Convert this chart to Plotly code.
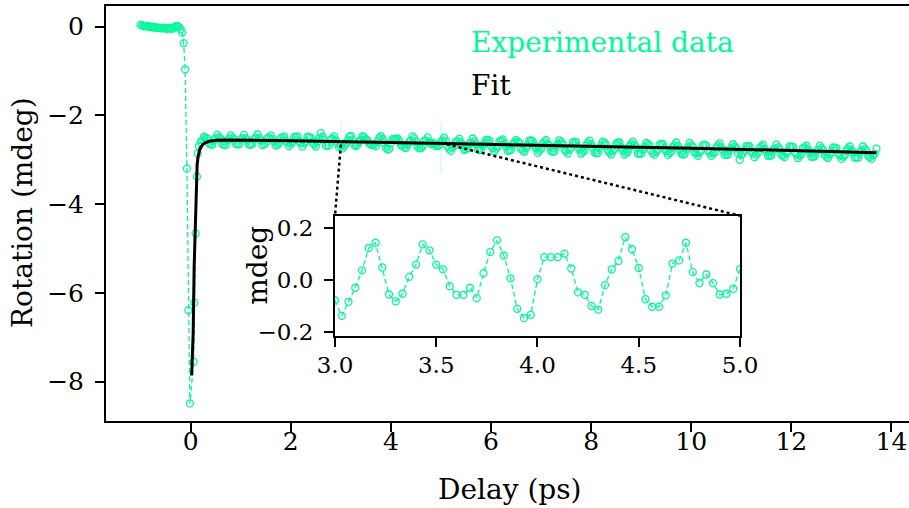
import numpy as np
import plotly.graph_objects as go

GREEN = "#00FA9A"
FONT = "DejaVu Serif"

# ---------------- data ----------------
# delay grid of the scan (ps), step 1/30 ps
pre_delay = np.arange(-30, -5) / 30.0
pre_rotation = [0.04, 0.03, 0.01, 0.02, 0.00, 0.01, -0.01, 0.00, -0.02, -0.01,
                -0.03, -0.02, -0.03, -0.04, -0.02, -0.04, -0.05, -0.03, -0.04, -0.05,
                -0.02, 0.01, 0.02, -0.01, -0.06]

edge_delay = [-0.167, -0.14, -0.11, -0.075, -0.045, -0.015, 0.06, 0.075, 0.10, 0.125, 0.14]
edge_rotation = [-0.13, -0.37, -0.96, -3.20, -6.39, -8.49, -7.55, -6.22, -4.66, -3.38, -2.86]

plateau_delay = np.arange(5, 412) / 30.0
plateau_a = [
    -2.70, -2.60, -2.56, -2.48, -2.51, -2.52, -2.63, -2.65, -2.66, -2.56,
    -2.52, -2.44, -2.49, -2.53, -2.65, -2.66, -2.67, -2.56, -2.53, -2.45,
    -2.50, -2.54, -2.64, -2.65, -2.65, -2.54, -2.51, -2.44, -2.52, -2.56,
    -2.66, -2.66, -2.64, -2.53, -2.50, -2.43, -2.51, -2.56, -2.67, -2.65,
    -2.62, -2.51, -2.50, -2.45, -2.54, -2.59, -2.68, -2.66, -2.63, -2.51,
    -2.50, -2.47, -2.57, -2.61, -2.69, -2.64, -2.60, -2.49, -2.49, -2.47,
    -2.58, -2.63, -2.70, -2.63, -2.59, -2.48, -2.49, -2.50, -2.61, -2.65,
    -2.70, -2.59, -2.52, -2.40, -2.48, -2.55, -2.68, -2.69, -2.67, -2.54,
    -2.52, -2.47, -2.57, -2.63, -2.72]
plateau_b = [
    -2.685, -2.744, -2.690, -2.636, -2.569, -2.483, -2.463, -2.558, -2.662, -2.688,
    -2.659, -2.594, -2.547, -2.469, -2.492, -2.547, -2.565, -2.630, -2.663, -2.663,
    -2.651, -2.691, -2.595, -2.514, -2.469, -2.527, -2.615, -2.732, -2.768, -2.755,
    -2.618, -2.533, -2.533, -2.533, -2.520, -2.577, -2.669, -2.678, -2.721, -2.735,
    -2.656, -2.595, -2.563, -2.471, -2.518, -2.590, -2.710, -2.739, -2.739, -2.695,
    -2.573, -2.561, -2.493, -2.606, -2.648, -2.615, -2.648, -2.692, -2.689, -2.670,
    -2.594]
plateau_c = [
    -2.56, -2.50, -2.58, -2.69, -2.75, -2.80, -2.72, -2.68, -2.59,
    -2.58, -2.53, -2.62, -2.67, -2.78, -2.76, -2.74, -2.64, -2.61,
    -2.52, -2.58, -2.64, -2.76, -2.78, -2.77, -2.68, -2.63, -2.55,
    -2.55, -2.57, -2.69, -2.74, -2.81, -2.75, -2.70, -2.59, -2.57,
    -2.54, -2.63, -2.70, -2.80, -2.79, -2.77, -2.66, -2.61, -2.55,
    -2.59, -2.62, -2.75, -2.79, -2.82, -2.73, -2.67, -2.57, -2.56,
    -2.58, -2.68, -2.74, -2.84, -2.79, -2.75, -2.64, -2.59, -2.55,
    -2.64, -2.69, -2.80, -2.82, -2.81, -2.70, -2.64, -2.56, -2.60,
    -2.65, -2.77, -2.81, -2.86, -2.77, -2.72, -2.61, -2.59, -2.60,
    -2.71, -2.77, -2.86, -2.82, -2.79, -2.67, -2.62, -2.57, -2.65,
    -2.72, -2.83, -2.85, -2.85, -2.74, -2.68, -2.59, -2.62, -2.66,
    -2.79, -2.83, -2.88, -2.80, -2.75, -2.64, -2.61, -2.61, -2.72,
    -2.79, -2.88, -2.84, -2.82, -2.70, -2.65, -2.59, -2.66, -2.72,
    -2.86, -2.86, -2.86, -2.77, -2.71, -2.62, -2.64, -2.67, -2.80,
    -2.85, -2.89, -2.82, -2.77, -2.66, -2.64, -2.64, -2.75, -2.81,
    -2.89, -2.85, -2.82, -2.71, -2.67, -2.61, -2.69, -2.76, -2.86,
    -2.88, -2.87, -2.77, -2.72, -2.62, -2.67, -2.71, -2.83, -2.86,
    -2.91, -2.83, -2.78, -2.67, -2.66, -2.68, -2.78, -2.84, -2.91,
    -2.86, -2.83, -2.72, -2.68, -2.63, -2.72, -2.78, -2.89, -2.89,
    -2.88, -2.78, -2.73, -2.65, -2.70, -2.74, -2.85, -3.00, -2.89,
    -2.84, -2.79, -2.69, -2.69, -2.70, -2.81, -2.86, -2.94, -2.89,
    -2.84, -2.73, -2.70, -2.66, -2.76, -2.81, -2.91, -2.91, -2.90,
    -2.79, -2.75, -2.66, -2.72, -2.76, -2.88, -2.91, -2.94, -2.85,
    -2.80, -2.70, -2.71, -2.71, -2.83, -2.88, -2.96, -2.91, -2.87,
    -2.74, -2.72, -2.68, -2.77, -2.83, -2.93, -2.93, -2.92, -2.81,
    -2.77, -2.68, -2.74, -2.78, -2.89, -2.93, -2.96, -2.88, -2.83,
    -2.72, -2.73, -2.73, -2.85, -2.90, -2.98, -2.93, -2.90, -2.79,
    -2.75, -2.70, -2.79, -2.84, -2.95, -2.95, -2.95, -2.84, -2.79,
    -2.70, -2.76, -2.80, -2.91, -2.94, -2.98, -2.90, -2.86, -2.75]
plateau_rotation = plateau_a + plateau_b + plateau_c
assert len(plateau_rotation) == len(plateau_delay)

fit_delay = [0.02, 0.05, 0.07, 0.10, 0.12, 0.13, 0.15, 0.16, 0.18, 0.20, 0.22, 0.25,
             0.27, 0.30, 0.32, 0.35, 0.40, 0.45, 0.52, 0.70, 1.0, 2.0, 4.0, 6.0,
             8.0, 10.0, 12.0, 13.7]
fit_rotation = [-7.86, -6.92, -5.41, -3.90, -3.30, -3.10, -2.92, -2.86, -2.78, -2.72,
                -2.68, -2.645, -2.63, -2.61, -2.60, -2.59, -2.575, -2.567, -2.56, -2.555,
                -2.555, -2.57, -2.61, -2.65, -2.69, -2.74, -2.79, -2.84]

inset_delay = np.arange(90, 151) / 30.0
inset_residual = [
    -0.080, -0.139, -0.085, -0.031, 0.036, 0.122, 0.142, 0.047, -0.057, -0.083,
    -0.054, 0.011, 0.058, 0.136, 0.113, 0.058, 0.040, -0.025, -0.058, -0.058,
    -0.031, -0.071, 0.025, 0.106, 0.151, 0.093, 0.005, -0.112, -0.148, -0.135,
    0.002, 0.087, 0.087, 0.087, 0.100, 0.043, -0.049, -0.058, -0.101, -0.115,
    -0.021, 0.040, 0.072, 0.164, 0.117, 0.045, -0.075, -0.104, -0.104, -0.060,
    0.062, 0.074, 0.142, 0.029, -0.013, 0.020, -0.013, -0.057, -0.054, -0.035,
    0.041]

x_ticks = [0, 2, 4, 6, 8, 10, 12, 14]
y_ticks = [-8, -6, -4, -2, 0]
inset_x_ticks = [3.0, 3.5, 4.0, 4.5, 5.0]
inset_y_ticks = [-0.2, 0.0, 0.2]
zoom_x = [3.0, 5.0]                 # delay window shown in the inset
zoom_marks_top = -2.14              # faint window markers (main-axes coords)
zoom_marks_bottom = [-2.66, -3.29]
connector_y = [-2.66, -2.62]        # where the dotted connectors leave the trace

# ---------------- layout geometry ----------------
W, H = 909, 508
ML, MR, MT, MB = 106, 0, 6, 87
X_RANGE = [-1.691, 14.35]
Y_RANGE = [-8.886, 0.466]
INSET_X_DOM = [0.2852, 0.7895]
INSET_Y_DOM = [0.2048, 0.4947]
INSET_Y_RANGE = [-0.2165, 0.246]

pw, ph = W - ML - MR, H - MT - MB


def px2paper(x, y):
    return (x - ML) / pw, (H - MB - y) / ph


def data2paper(x, y):
    return ((x - X_RANGE[0]) / (X_RANGE[1] - X_RANGE[0]),
            (y - Y_RANGE[0]) / (Y_RANGE[1] - Y_RANGE[0]))


all_delay = list(pre_delay) + edge_delay + list(plateau_delay)
all_rotation = pre_rotation + edge_rotation + plateau_rotation

marker_style = dict(symbol="circle-open", size=7, color=GREEN,
                    line=dict(width=1.3, color=GREEN))
line_style = dict(color=GREEN, width=1.3, dash="5px,3px")

fig = go.Figure()
fig.add_trace(go.Scatter(x=all_delay, y=all_rotation, mode="lines+markers",
                         line=line_style, marker=marker_style,
                         name="Experimental data", showlegend=False))
fig.add_trace(go.Scatter(x=fit_delay, y=fit_rotation, mode="lines",
                         line=dict(color="black", width=3),
                         name="Fit", showlegend=False))
fig.add_trace(go.Scatter(x=inset_delay, y=inset_residual, mode="lines+markers",
                         line=line_style, marker=marker_style,
                         xaxis="x2", yaxis="y2", showlegend=False))


def axis_common(size, standoff):
    return dict(showgrid=False, zeroline=False, showline=True, automargin=False,
                linecolor="black", linewidth=2, ticks="outside",
                ticklen=9, tickwidth=2, tickcolor="black",
                ticklabelstandoff=standoff,
                tickfont=dict(family=FONT, size=size, color="black"))


fig.update_layout(
    width=W, height=H,
    margin=dict(l=ML, r=MR, t=MT, b=MB, pad=0, autoexpand=False),
    paper_bgcolor="white", plot_bgcolor="white",
    font=dict(family=FONT, color="black"),
    xaxis=dict(domain=[0, 1], range=X_RANGE, tickvals=x_ticks, mirror=True,
               anchor="y", **axis_common(25, -12)),
    yaxis=dict(domain=[0, 1], range=Y_RANGE, tickvals=y_ticks, mirror=False,
               anchor="x", **axis_common(25, 6)),
    xaxis2=dict(domain=INSET_X_DOM, range=[3, 5], tickvals=inset_x_ticks,
                tickformat=".1f", mirror=True, anchor="y2", **axis_common(23, -2)),
    yaxis2=dict(domain=INSET_Y_DOM, range=INSET_Y_RANGE, tickvals=inset_y_ticks,
                tickformat=".1f", mirror=True, anchor="x2", **axis_common(23, 6)),
)

# faint window markers and dotted connectors
for bx, by in zip(zoom_x, zoom_marks_bottom):
    fig.add_shape(type="line", xref="x", yref="y",
                  x0=bx, x1=bx, y0=zoom_marks_top, y1=by,
                  line=dict(color="rgba(0,250,154,0.25)", width=1), layer="above")
for bx, by, cx in zip(zoom_x, connector_y, INSET_X_DOM):
    sx, sy = data2paper(bx, by)
    fig.add_shape(type="line", xref="paper", yref="paper",
                  x0=sx, y0=sy, x1=cx, y1=INSET_Y_DOM[1],
                  line=dict(color="black", width=2.5, dash="dot"), layer="above")

# texts
def add_text(text, pxx, pyy, size=28, color="black", angle=0, xanchor="center"):
    x, y = px2paper(pxx, pyy)
    fig.add_annotation(text=text, x=x, y=y, xref="paper", yref="paper",
                       showarrow=False, textangle=angle, xanchor=xanchor,
                       yanchor="middle",
                       font=dict(family=FONT, size=size, color=color))

add_text("Delay (ps)", 509.5, 489)
add_text("Rotation (mdeg)", 23, 213, angle=-90)
add_text("mdeg", 256.7, 265, angle=-90)
add_text("Experimental data", 469, 42.5, color=GREEN, xanchor="left")
add_text("Fit", 469, 85.5, xanchor="left")

fig.write_html("out.html")
